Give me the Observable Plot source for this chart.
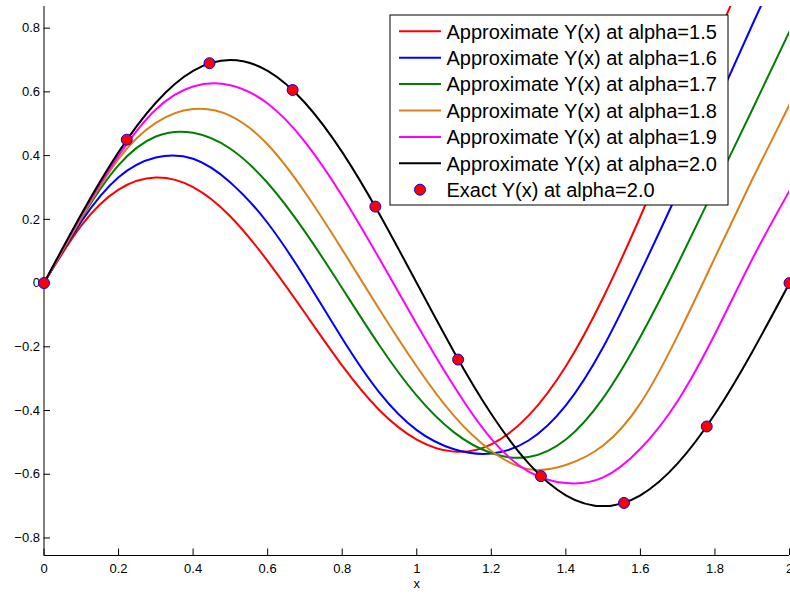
<!DOCTYPE html>
<html><head><meta charset="utf-8">
<script src="https://cdn.jsdelivr.net/npm/d3@7"></script>
<script src="https://cdn.jsdelivr.net/npm/@observablehq/plot@0.6"></script>
<style>body{margin:0;background:#fff;} #chart{width:790px;height:594px;overflow:hidden;}</style>
</head><body><div id="chart"></div>
<script>
// x samples
const xs = [0, 0.1, 0.2, 0.3, 0.4, 0.5, 0.6, 0.7, 0.8, 0.9, 1.0, 1.1, 1.2, 1.3, 1.4, 1.5, 1.6, 1.7, 1.8, 1.9, 2.0];
const yAlpha15 = [0, 0.18, 0.293, 0.331, 0.301, 0.209, 0.069, -0.094, -0.259, -0.399, -0.491, -0.529, -0.506, -0.416, -0.261, -0.046, 0.209, 0.481, 0.756, 1.03, 1.30];
const yAlpha16 = [0, 0.193, 0.332, 0.394, 0.39, 0.316, 0.1885, 0.016, -0.174, -0.344, -0.4615, -0.5215, -0.535, -0.494, -0.384, -0.2015, 0.0335, 0.285, 0.55, 0.81, 1.065];
const yAlpha17 = [0, 0.202, 0.37, 0.46, 0.4715, 0.4215, 0.314, 0.1615, -0.016, -0.196, -0.3535, -0.4685, -0.5335, -0.546, -0.491, -0.361, -0.1685, 0.059, 0.3015, 0.544, 0.79];
const yAlpha18 = [0, 0.205, 0.39, 0.503, 0.546, 0.525, 0.435, 0.285, 0.105, -0.083, -0.262, -0.417, -0.527, -0.584, -0.571, -0.51, -0.3775, -0.165, 0.08, 0.325, 0.56];
const yAlpha19 = [0, 0.212, 0.40, 0.545, 0.617, 0.621, 0.5635, 0.4435, 0.2735, 0.076, -0.129, -0.324, -0.489, -0.5915, -0.6275, -0.61, -0.52, -0.37, -0.16, 0.075, 0.29];
const yAlpha20 = [0, 0.216, 0.411, 0.566, 0.666, 0.70, 0.666, 0.566, 0.411, 0.216, 0, -0.216, -0.411, -0.566, -0.666, -0.70, -0.666, -0.566, -0.411, -0.216, 0];

const exactX = [0, 0.222, 0.444, 0.667, 0.889, 1.111, 1.333, 1.556, 1.778, 2.0];
const exactY = [0, 0.45, 0.69, 0.606, 0.24, -0.24, -0.606, -0.69, -0.45, 0];

const seriesNames = ["Approximate Y(x) at alpha=1.5", "Approximate Y(x) at alpha=1.6", "Approximate Y(x) at alpha=1.7",
  "Approximate Y(x) at alpha=1.8", "Approximate Y(x) at alpha=1.9", "Approximate Y(x) at alpha=2.0"];
const seriesColors = ["#ff0000", "#0000ff", "#008000", "#d98019", "#ff00ff", "#000000"];
const seriesValues = [yAlpha15, yAlpha16, yAlpha17, yAlpha18, yAlpha19, yAlpha20];
const exactName = "Exact Y(x) at alpha=2.0";

const xDomain = [0, 2];
const yDomain = [-0.855, 0.868];
const xTicks = [0, 0.2, 0.4, 0.6, 0.8, 1, 1.2, 1.4, 1.6, 1.8, 2];
const xTickLabels = ["0", "0.2", "0.4", "0.6", "0.8", "1", "1.2", "1.4", "1.6", "1.8", "2"];
const yTicks = [-0.8, -0.6, -0.4, -0.2, 0, 0.2, 0.4, 0.6, 0.8];
const yTickLabels = ["\u22120.8", "\u22120.6", "\u22120.4", "\u22120.2", "0", "0.2", "0.4", "0.6", "0.8"];
const xLabel = "x";

const font = "'Liberation Sans', Arial, Helvetica, sans-serif";

const lineMarks = seriesValues.map((ys, k) =>
  Plot.line(xs, {x: xs, y: ys, stroke: seriesColors[k], strokeWidth: 2, curve: "natural", clip: true}));

const plot = Plot.plot({
  width: 790, height: 594,
  marginLeft: 43.5, marginRight: 1, marginTop: 6, marginBottom: 39,
  x: {domain: xDomain, label: null},
  y: {domain: yDomain, label: null},
  style: {fontFamily: font, fontSize: "13px", color: "#000", background: "#fff"},
  marks: [
    ...lineMarks,
    Plot.ruleX([xDomain[0]], {stroke: "#000", strokeWidth: 1}),
    Plot.ruleY([yDomain[0]], {stroke: "#000", strokeWidth: 1}),
    Plot.axisY(yTicks, {tickSize: -6.5, tickPadding: 10.5, label: null, fontSize: 13,
      tickFormat: d => yTickLabels[yTicks.indexOf(d)]}),
    Plot.axisX(xTicks, {tickSize: -6.5, tickPadding: 14.5, label: null, fontSize: 13,
      tickFormat: d => xTickLabels[xTicks.indexOf(d)]}),
    Plot.text([xLabel], {frameAnchor: "bottom", dy: 32.5, fontSize: 13, text: d => d}),
    Plot.dot(exactX, {x: exactX, y: exactY, r: 5.5, fill: "#ff0000", stroke: "#0000ff", strokeWidth: 1})
  ]
});
document.getElementById("chart").appendChild(plot);

// Legend box (inside the axes, top-right, as in the reference)
const svg = d3.select(plot);
const lg = svg.append("g").attr("font-family", font).attr("font-size", 20).attr("text-anchor", "start");
const lx = 390, ly = 15, lw = 338, lh = 190, rowH = 26.4, firstRow = 31.3;
lg.append("rect").attr("x", lx).attr("y", ly).attr("width", lw).attr("height", lh)
  .attr("fill", "#fff").attr("stroke", "#000").attr("stroke-width", 1);
seriesNames.forEach((name, i) => {
  const cy = firstRow + rowH * i;
  lg.append("line").attr("x1", 399).attr("x2", 441).attr("y1", cy).attr("y2", cy)
    .attr("stroke", seriesColors[i]).attr("stroke-width", 2);
  lg.append("text").attr("x", 446.5).attr("y", cy + 7.2).attr("fill", "#000").text(name);
});
{
  const cy = firstRow + rowH * 6;
  lg.append("circle").attr("cx", 420).attr("cy", cy).attr("r", 5.5)
    .attr("fill", "#ff0000").attr("stroke", "#0000ff").attr("stroke-width", 1);
  lg.append("text").attr("x", 446.5).attr("y", cy + 7.2).attr("fill", "#000").text(exactName);
}
</script>
</body></html>
